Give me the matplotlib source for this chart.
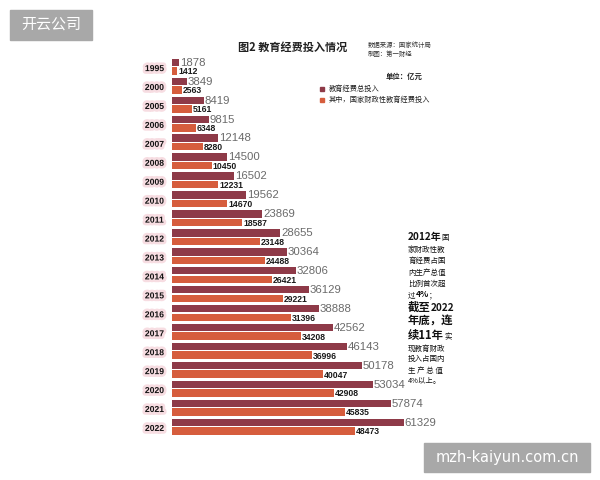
import matplotlib
matplotlib.use("Agg")
import matplotlib.pyplot as plt
import matplotlib.patheffects as pe

plt.rcParams['font.family'] = ['Noto Sans CJK SC', 'DejaVu Sans']

years = ['1995', '2000', '2005', '2006', '2007', '2008', '2009', '2010', '2011', '2012',
         '2013', '2014', '2015', '2016', '2017', '2018', '2019', '2020', '2021', '2022']
total = [1878, 3849, 8419, 9815, 12148, 14500, 16502, 19562, 23869, 28655,
         30364, 32806, 36129, 38888, 42562, 46143, 50178, 53034, 57874, 61329]
fiscal = [1412, 2563, 5161, 6348, 8280, 10450, 12231, 14670, 18587, 23148,
          24488, 26421, 29221, 31396, 34208, 36996, 40047, 42908, 45835, 48473]

DARK = '#8e3a48'
LIGHT = '#d65d3d'

W, H = 600, 480
fig = plt.figure(figsize=(6, 4.8), dpi=100)
fig.patch.set_facecolor('white')

# axes geometry in pixels
x0 = 172
px_per_unit = 232 / 61329.0
xmax = 70000
ax_w = xmax * px_per_unit
row0 = 66.7
step = 18.94
ytop = row0 - 0.6 * step
ybot = row0 + 19.6 * step
ax = fig.add_axes([x0 / W, 1 - ybot / H, ax_w / W, (ybot - ytop) / H])
ax.set_xlim(0, xmax)
ax.set_ylim(19.6, -0.6)
ax.axis('off')

off = 4.3 / step
bh = 7.4 / step
pos = list(range(len(years)))
ax.barh([p - off for p in pos], total, height=bh, color=DARK, zorder=2)
ax.barh([p + off for p in pos], fiscal, height=bh, color=LIGHT, zorder=2)

glow = [pe.withStroke(linewidth=4, foreground='#f7dde2')]
lab_font = ['Liberation Sans', 'DejaVu Sans']
for p, y, t, f in zip(pos, years, total, fiscal):
    ax.text(t + 200, p - off + 0.3 / step, str(t), ha='left', va='center', fontsize=8.2,
            color='#6a6a6a', family=lab_font)
    ax.text(f + 200, p + off + 1.0 / step, str(f), ha='left', va='center', fontsize=6.2,
            color='#1a1a1a', fontweight='bold', family=lab_font)
    ax.text(-17.5 / px_per_unit, p + 0.1, y, ha='center', va='center', fontsize=6.2,
            fontweight='bold', color='#111111', family=lab_font, path_effects=glow)


def ftxt(x, y, s, **kw):
    return fig.text(x / W, 1 - y / H, s, **kw)


ftxt(293, 47, '图2 教育经费投入情况', ha='center', va='center', fontsize=8, fontweight='bold', color='#222222')
ftxt(368, 45, '数据来源：国家统计局', ha='left', va='center', fontsize=4.6, color='#333333')
ftxt(368, 54, '制图：第一财经', ha='left', va='center', fontsize=4.6, color='#333333')
ftxt(386, 76, '单位：亿元', ha='left', va='center', fontsize=5.3, fontweight='bold', color='#222222')

for yy, col, lab in [(89, DARK, '教育经费总投入'), (100, LIGHT, '其中，国家财政性教育经费投入')]:
    fig.patches.append(plt.Rectangle((320 / W, 1 - (yy + 2.3) / H), 4.5 / W, 4.5 / H,
                                     transform=fig.transFigure, color=col, figure=fig))
    ftxt(329, yy, lab, ha='left', va='center', fontsize=5.2, color='#222222')

# right-hand text block
lines = [
    (236, [('2012年', 7.2, 'bold'), ('国', 5.4, 'normal')]),
    (248, [('家财政性教', 5.4, 'normal')]),
    (259, [('育经费占国', 5.4, 'normal')]),
    (271, [('内生产总值', 5.4, 'normal')]),
    (282, [('比例首次超', 5.4, 'normal')]),
    (293, [('过', 5.4, 'normal'), ('4%', 6.2, 'bold'), ('；', 5.4, 'normal')]),
    (307, [('截至', 8.2, 'bold'), ('2022', 7.2, 'bold')]),
    (321, [('年底，连', 8.2, 'bold')]),
    (335, [('续11年', 8.2, 'bold'), ('实', 5.4, 'normal')]),
    (347, [('现教育财政', 5.4, 'normal')]),
    (357, [('投入占国内', 5.4, 'normal')]),
    (369, [('生 产 总 值', 5.4, 'normal')]),
    (379, [('4%以上。', 5.4, 'normal')]),
]
groups = []
for yy, parts in lines:
    g = []
    for s, sz, wt in parts:
        t = fig.text(408 / W, 1 - (yy + 4) / H, s, ha='left', va='baseline',
                     fontsize=sz, fontweight=wt, color='#111111')
        g.append(t)
    groups.append(g)

fig.canvas.draw()
r = fig.canvas.get_renderer()
for g in groups:
    for i in range(1, len(g)):
        bb = g[i - 1].get_window_extent(r)
        _, py = g[i - 1].get_position()
        g[i].set_position((bb.x1 / W, py))

# watermarks
fig.patches.append(plt.Rectangle((10 / W, 1 - 40 / H), 82 / W, 30 / H,
                                 transform=fig.transFigure, color='#a8a8a8', figure=fig))
fig.text(51 / W, 1 - 25 / H, '开云公司', ha='center', va='center', fontsize=10.8, color='white')
fig.patches.append(plt.Rectangle((424 / W, 1 - 472 / H), 166 / W, 29 / H,
                                 transform=fig.transFigure, color='#a8a8a8', figure=fig))
fig.text(507 / W, 1 - 457.5 / H, 'mzh-kaiyun.com.cn', ha='center', va='center', fontsize=10.5,
         color='white', family='DejaVu Sans')

fig.savefig('out.png', dpi=100)
